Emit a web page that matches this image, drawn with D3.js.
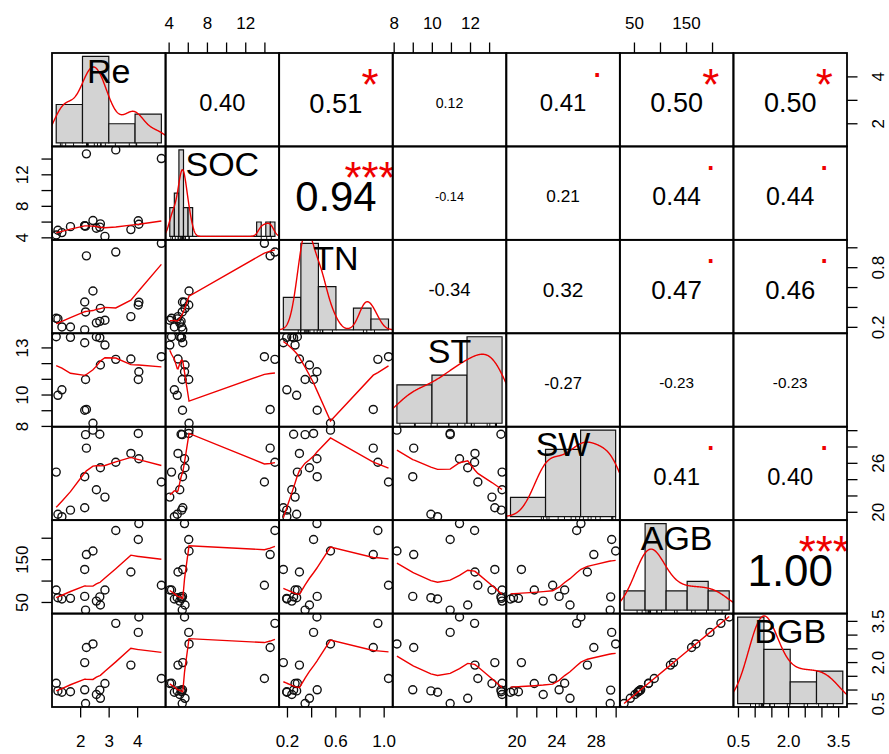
<!DOCTYPE html>
<html>
<head>
<meta charset="utf-8">
<script src="https://cdn.jsdelivr.net/npm/d3@7"></script>
<style>
  html, body { margin: 0; padding: 0; background: #ffffff; }
  svg { display: block; }
</style>
</head>
<body>
<svg id="chart" width="889" height="754"></svg>
<script>
const variables = ["Re", "SOC", "TN", "ST", "SW", "AGB", "BGB"];

const Re  = [1.16, 1.22, 1.36, 1.66, 2.16, 2.19, 2.16, 2.22, 2.45, 2.57, 2.71, 2.87, 3.25, 3.78, 4.06, 4.04, 4.85, 2.69];
const SOC = [4.30, 4.90, 4.60, 5.36, 5.45, 5.42, 5.48, 14.6, 6.13, 5.16, 5.71, 4.12, 15.1, 4.98, 5.66, 6.10, 14.0, 5.30];
const TN  = [0.286, 0.280, 0.199, 0.198, 0.450, 0.350, 0.170, 0.914, 0.560, 0.240, 0.386, 0.267, 0.952, 0.303, 0.448, 0.420, 1.040, 0.255];
const ST  = [13.68, 9.95, 10.30, 13.64, 9.00, 10.96, 13.30, 9.05, 8.17, 13.68, 11.88, 13.15, 12.24, 12.26, 11.45, 10.96, 12.41, 13.62];
const SW  = [24.86, 19.70, 19.40, 20.20, 24.30, 29.45, 20.50, 27.80, 30.00, 22.70, 25.40, 21.80, 26.07, 27.15, 26.50, 29.60, 23.65, 29.50];
const AGB = [78, 60, 57, 58.5, 63, 31, 126, 160.7, 169, 52, 43, 78, 217, 120, 233, 196, 89, 62];
const BGB = [1.23, 0.95, 0.90, 0.92, 0.99, 0.49, 1.98, 2.53, 2.66, 0.82, 0.68, 1.22, 3.41, 1.89, 3.64, 3.08, 1.40, 0.98];

// histogram breaks of the diagonal panels
const breaksRe  = [1, 2, 3, 4, 5];
const breaksSOC = [4, 4.5, 5, 5.5, 6, 6.5, 7, 7.5, 8, 8.5, 9, 9.5, 10, 10.5, 11, 11.5, 12, 12.5, 13, 13.5, 14, 14.5, 15, 15.5];
const breaksTN  = [0, 0.2, 0.4, 0.6, 0.8, 1.0, 1.2];
const breaksST  = [8, 10, 12, 14];
const breaksSW  = [15, 20, 25, 30];
const breaksAGB = [0, 50, 100, 150, 200, 250];
const breaksBGB = [0, 1, 2, 3, 4];

// upper-triangle correlation values and significance marks (row by row)
const corRe  = [0.40, 0.51, 0.12, 0.41, 0.50, 0.50];
const corSOC = [0.94, -0.14, 0.21, 0.44, 0.44];
const corTN  = [-0.34, 0.32, 0.47, 0.46];
const corST  = [-0.27, -0.23, -0.23];
const corSW  = [0.41, 0.40];
const corAGB = [1.00];
const sigRe  = ["", "*", "", ".", "*", "*"];
const sigSOC = ["***", "", "", ".", "."];
const sigTN  = ["", "", ".", "."];
const sigST  = ["", "", ""];
const sigSW  = [".", "."];
const sigAGB = ["***"];

// axis ticks and the tick labels that are printed
const ticksRe  = [2, 3, 4];
const ticksSOC = [4, 6, 8, 10, 12, 14];
const ticksTN  = [0.2, 0.4, 0.6, 0.8, 1.0];
const ticksST  = [8, 9, 10, 11, 12, 13];
const ticksSW  = [20, 22, 24, 26, 28, 30];
const ticksAGB = [50, 100, 150, 200];
const ticksBGB = [0.5, 1.0, 1.5, 2.0, 2.5, 3.0, 3.5];
const labelsReBottom  = ["2", "3", "4"];
const labelsReRight   = ["2", "4"];
const labelsSOCTop    = ["4", "8", "12"];
const labelsSOCLeft   = ["4", "8", "12"];
const labelsTNBottom  = ["0.2", "0.6", "1.0"];
const labelsTNRight   = ["0.2", "0.8"];
const labelsSTTop     = ["8", "10", "12"];
const labelsSTLeft    = ["8", "10", "13"];
const labelsSWBottom  = ["20", "24", "28"];
const labelsSWRight   = ["20", "26"];
const labelsAGBTop    = ["50", "150"];
const labelsAGBLeft   = ["50", "150"];
const labelsBGBBottom = ["0.5", "2.0", "3.5"];
const labelsBGBRight  = ["0.5", "2.0", "3.5"];

// ---------------- lookup tables built from the arrays ----------------
const data   = { Re, SOC, TN, ST, SW, AGB, BGB };
const breaks = { Re: breaksRe, SOC: breaksSOC, TN: breaksTN, ST: breaksST, SW: breaksSW, AGB: breaksAGB, BGB: breaksBGB };
const corRows = [corRe, corSOC, corTN, corST, corSW, corAGB];
const sigRows = [sigRe, sigSOC, sigTN, sigST, sigSW, sigAGB];
const ticks  = { Re: ticksRe, SOC: ticksSOC, TN: ticksTN, ST: ticksST, SW: ticksSW, AGB: ticksAGB, BGB: ticksBGB };
const axisLabels = {
  Re:  { bottom: labelsReBottom,  right: labelsReRight },
  SOC: { top: labelsSOCTop,       left: labelsSOCLeft },
  TN:  { bottom: labelsTNBottom,  right: labelsTNRight },
  ST:  { top: labelsSTTop,        left: labelsSTLeft },
  SW:  { bottom: labelsSWBottom,  right: labelsSWRight },
  AGB: { top: labelsAGBTop,       left: labelsAGBLeft },
  BGB: { bottom: labelsBGBBottom, right: labelsBGBRight }
};

// ---------------- layout ----------------
const FONT = '"Liberation Sans", Arial, Helvetica, sans-serif';
const L = 52, R = 847, T = 53, B = 707;
const nv = variables.length;
const pw = (R - L) / nv, ph = (B - T) / nv;
const RED = "#ee0000";

const svg = d3.select("#chart");
svg.append("rect").attr("width", 889).attr("height", 754).attr("fill", "#ffffff");
const defs = svg.append("defs");

function usr(arr) {
  const [a, b] = d3.extent(arr);
  const d = (b - a) * 0.04;
  return [a - d, b + d];
}
const xScales = variables.map((v, j) => d3.scaleLinear().domain(usr(data[v])).range([L + j * pw, L + (j + 1) * pw]));
const yScales = variables.map((v, i) => d3.scaleLinear().domain(usr(data[v])).range([T + (i + 1) * ph, T + i * ph]));

// ---------------- statistics used by the panels ----------------
function lowess(xIn, yIn, f = 2 / 3, nsteps = 3) {
  const n = xIn.length;
  const idx = d3.range(n).sort((a, b) => (xIn[a] - xIn[b]) || (a - b));
  const x = [0].concat(idx.map(k => xIn[k]));
  const y = [0].concat(idx.map(k => yIn[k]));
  const ys = new Array(n + 1).fill(0);
  const rw = new Array(n + 1).fill(1);
  const w = new Array(n + 1).fill(0);
  const res = new Array(n + 1).fill(0);
  const delta = 0.01 * (x[n] - x[1]);
  const ns = Math.max(2, Math.min(n, Math.floor(f * n + 1e-7)));

  function lowest(xs, nleft, nright, userw) {
    const range = x[n] - x[1];
    const h = Math.max(xs - x[nleft], x[nright] - xs);
    const h9 = 0.999 * h, h1 = 0.001 * h;
    let a = 0, j = nleft;
    while (j <= n) {
      w[j] = 0;
      const r = Math.abs(x[j] - xs);
      if (r <= h9) {
        if (r <= h1) w[j] = 1;
        else { const q = r / h; const t = 1 - q * q * q; w[j] = t * t * t; }
        if (userw) w[j] *= rw[j];
        a += w[j];
      } else if (x[j] > xs) break;
      j++;
    }
    const nrt = j - 1;
    if (a <= 0) return null;
    for (j = nleft; j <= nrt; j++) w[j] /= a;
    if (h > 0) {
      a = 0;
      for (j = nleft; j <= nrt; j++) a += w[j] * x[j];
      let b = xs - a, c = 0;
      for (j = nleft; j <= nrt; j++) c += w[j] * (x[j] - a) * (x[j] - a);
      if (Math.sqrt(c) > 0.001 * range) {
        b /= c;
        for (j = nleft; j <= nrt; j++) w[j] *= (b * (x[j] - a) + 1);
      }
    }
    let s = 0;
    for (j = nleft; j <= nrt; j++) s += w[j] * y[j];
    return s;
  }

  let iter = 1;
  while (iter <= nsteps + 1) {
    let nleft = 1, nright = ns, last = 0, i = 1;
    for (;;) {
      if (nright < n) {
        const d1 = x[i] - x[nleft], d2 = x[nright + 1] - x[i];
        if (d1 > d2) { nleft++; nright++; continue; }
      }
      const v = lowest(x[i], nleft, nright, iter > 1);
      ys[i] = (v === null) ? y[i] : v;
      if (last < i - 1) {
        const denom = x[i] - x[last];
        for (let j = last + 1; j < i; j++) {
          const alpha = (x[j] - x[last]) / denom;
          ys[j] = alpha * ys[i] + (1 - alpha) * ys[last];
        }
      }
      last = i;
      const cut = x[last] + delta;
      for (i = last + 1; i <= n; i++) {
        if (x[i] > cut) break;
        if (x[i] === x[last]) { ys[i] = ys[last]; last = i; }
      }
      i = Math.max(last + 1, i - 1);
      if (last >= n) break;
    }
    for (let k = 1; k <= n; k++) res[k] = y[k] - ys[k];
    if (iter > nsteps) break;
    const absr = res.slice(1).map(Math.abs);
    const sorted = absr.slice().sort((a, b) => a - b);
    const sc = d3.sum(absr) / n;
    const m1 = Math.floor(n / 2);
    let cmad;
    if (n % 2 === 0) cmad = 3 * (sorted[m1] + sorted[n - m1 - 1]);
    else cmad = 6 * sorted[m1];
    if (cmad < 1e-7 * sc) break;
    const c9 = 0.999 * cmad, c1 = 0.001 * cmad;
    for (let k = 1; k <= n; k++) {
      const r = Math.abs(res[k]);
      rw[k] = r <= c1 ? 1 : (r <= c9 ? Math.pow(1 - Math.pow(r / cmad, 2), 2) : 0);
    }
    iter++;
  }
  return d3.range(1, n + 1).map(k => [x[k], ys[k]]);
}

function kde(values) {
  const n = values.length;
  const sorted = values.slice().sort(d3.ascending);
  const sd = d3.deviation(values);
  const iqr = d3.quantileSorted(sorted, 0.75) - d3.quantileSorted(sorted, 0.25);
  let lo = Math.min(sd, iqr / 1.34);
  if (!lo) lo = sd || Math.abs(values[0]) || 1;
  const bw = 0.9 * lo * Math.pow(n, -0.2);
  const from = sorted[0] - 3 * bw, to = sorted[n - 1] + 3 * bw;
  return d3.range(512).map(k => {
    const xv = from + (to - from) * k / 511;
    const dens = d3.sum(values, v => Math.exp(-0.5 * Math.pow((xv - v) / bw, 2))) / (n * bw * Math.sqrt(2 * Math.PI));
    return [xv, dens];
  });
}

function histogram(values, br) {
  const counts = new Array(br.length - 1).fill(0);
  values.forEach(v => {
    for (let k = 0; k < br.length - 1; k++) {
      if ((v > br[k] && v <= br[k + 1]) || (k === 0 && v === br[0])) { counts[k]++; break; }
    }
  });
  const n = values.length;
  return counts.map((c, k) => ({ x0: br[k], x1: br[k + 1], dens: c / (n * (br[k + 1] - br[k])) }));
}

const ADV = { ".": 0.278, "-": 0.333, "*": 0.389 };
function emWidth(s) { return Array.from(s).reduce((a, c) => a + (ADV[c] !== undefined ? ADV[c] : 0.556), 0); }
const FUDGE = 0.94;

// ---------------- panels ----------------
const line = d3.line();
variables.forEach((vi, i) => {
  variables.forEach((vj, j) => {
    const x0 = L + j * pw, y0 = T + i * ph;
    const id = `clip-${i}-${j}`;
    defs.append("clipPath").attr("id", id)
      .append("rect").attr("x", x0).attr("y", y0).attr("width", pw).attr("height", ph);
    const g = svg.append("g").attr("clip-path", `url(#${id})`);

    if (i > j) {
      // scatter + lowess smooth
      const xs = xScales[j], ys = yScales[i];
      const xv = data[vj], yv = data[vi];
      g.selectAll("circle").data(d3.range(xv.length)).join("circle")
        .attr("cx", k => xs(xv[k])).attr("cy", k => ys(yv[k])).attr("r", 4)
        .attr("fill", "none").attr("stroke", "#111").attr("stroke-width", 1.4);
      const sm = lowess(xv, yv);
      g.append("path")
        .attr("d", line.x(d => xs(d[0])).y(d => ys(d[1]))(sm))
        .attr("fill", "none").attr("stroke", RED).attr("stroke-width", 1.4);
    } else if (i === j) {
      // histogram + density + rug + label
      const br = breaks[vi];
      const bins = histogram(data[vi], br);
      const span = br[br.length - 1] - br[0];
      const hx = d3.scaleLinear().domain([br[0] - 0.04 * span, br[br.length - 1] + 0.04 * span]).range([x0, x0 + pw]);
      const M = d3.max(bins, b => b.dens);
      const hy = d3.scaleLinear().domain([-0.04 * M, 1.04 * M]).range([y0 + ph, y0]);
      g.selectAll("path.bar").data(bins).join("path").attr("class", "bar")
        .attr("d", b => `M${hx(b.x0)},${hy(0)}V${hy(b.dens)}H${hx(b.x1)}V${hy(0)}Z`)
        .attr("fill", "#d3d3d3").attr("stroke", "#111").attr("stroke-width", 1.2);
      const dens = kde(data[vi]);
      g.append("path")
        .attr("d", line.x(d => hx(d[0])).y(d => hy(d[1]))(dens))
        .attr("fill", "none").attr("stroke", RED).attr("stroke-width", 1.4);
      g.selectAll("line.rug").data(data[vi]).join("line").attr("class", "rug")
        .attr("x1", v => hx(v)).attr("x2", v => hx(v))
        .attr("y1", y0 + ph).attr("y2", y0 + ph - 0.035 * ph)
        .attr("stroke", "#000").attr("stroke-width", 0.9);
      const fs = 34;
      g.append("text")
        .attr("x", x0 + pw / 2).attr("y", y0 + ph * (1 - 0.8333) + 2 + 0.358 * fs)
        .attr("text-anchor", "middle").attr("font-family", FONT).attr("font-size", fs)
        .attr("fill", "#000").text(vi);
    } else {
      // correlation text + significance
      const r = corRows[i][j - i - 1];
      const sig = sigRows[i][j - i - 1];
      const txt = r.toFixed(2);
      const full = 0.8 * pw / emWidth(txt) * FUDGE;
      const fs = full * (Math.abs(r) + 0.3) / 1.3;
      g.append("text")
        .attr("x", x0 + pw / 2).attr("y", y0 + ph / 2 + 3 + 0.358 * fs)
        .attr("text-anchor", "middle").attr("font-family", FONT).attr("font-size", fs)
        .attr("fill", "#000").text(txt);
      if (sig) {
        const cy = y0 + ph * 0.2 + 3;
        const isDot = sig === ".";
        const sfs = isDot ? full * 0.85 : full;
        const off = isDot ? 0.052 : 0.578;
        g.append("text")
          .attr("x", x0 + pw * 0.8).attr("y", cy + off * sfs)
          .attr("text-anchor", "middle").attr("font-family", FONT).attr("font-size", sfs)
          .attr("fill", RED).text(sig);
      }
    }
    svg.append("rect").attr("x", x0).attr("y", y0).attr("width", pw).attr("height", ph)
      .attr("fill", "none").attr("stroke", "#000").attr("stroke-width", 1.8);
  });
});

// ---------------- axes ----------------
function fmtFor(list) {
  return d => { const s = list.find(t => Math.abs(parseFloat(t) - d) < 1e-9); return s === undefined ? "" : s; };
}
function styleAxis(g) {
  g.select(".domain").remove();
  g.selectAll(".tick line").attr("stroke", "#000").attr("stroke-width", 1.3);
  g.selectAll(".tick text").attr("fill", "#000").attr("font-family", FONT).attr("font-size", 17);
}
const TICK = 10.5;
variables.forEach((v, k) => {
  if (k % 2 === 1) {
    const gt = svg.append("g").attr("transform", `translate(0,${T})`)
      .call(d3.axisTop(xScales[k]).tickValues(ticks[v]).tickSize(TICK).tickSizeOuter(0).tickFormat(fmtFor(axisLabels[v].top)));
    styleAxis(gt);
    gt.selectAll(".tick text").attr("y", -30.5).attr("dy", "0.358em");
    const gl = svg.append("g").attr("transform", `translate(${L},0)`)
      .call(d3.axisLeft(yScales[k]).tickValues(ticks[v]).tickSize(TICK).tickSizeOuter(0).tickFormat(fmtFor(axisLabels[v].left)));
    styleAxis(gl);
    gl.selectAll(".tick text").attr("x", null).attr("dy", "0.358em").attr("text-anchor", "middle")
      .attr("transform", "translate(-30.5,0) rotate(-90)");
  } else {
    const gb = svg.append("g").attr("transform", `translate(0,${B})`)
      .call(d3.axisBottom(xScales[k]).tickValues(ticks[v]).tickSize(TICK).tickSizeOuter(0).tickFormat(fmtFor(axisLabels[v].bottom)));
    styleAxis(gb);
    gb.selectAll(".tick text").attr("y", 34).attr("dy", "0.358em");
    const gr = svg.append("g").attr("transform", `translate(${R},0)`)
      .call(d3.axisRight(yScales[k]).tickValues(ticks[v]).tickSize(TICK).tickSizeOuter(0).tickFormat(fmtFor(axisLabels[v].right)));
    styleAxis(gr);
    gr.selectAll(".tick text").attr("x", null).attr("dy", "0.358em").attr("text-anchor", "middle")
      .attr("transform", "translate(31,0) rotate(-90)");
  }
});
</script>
</body>
</html>
